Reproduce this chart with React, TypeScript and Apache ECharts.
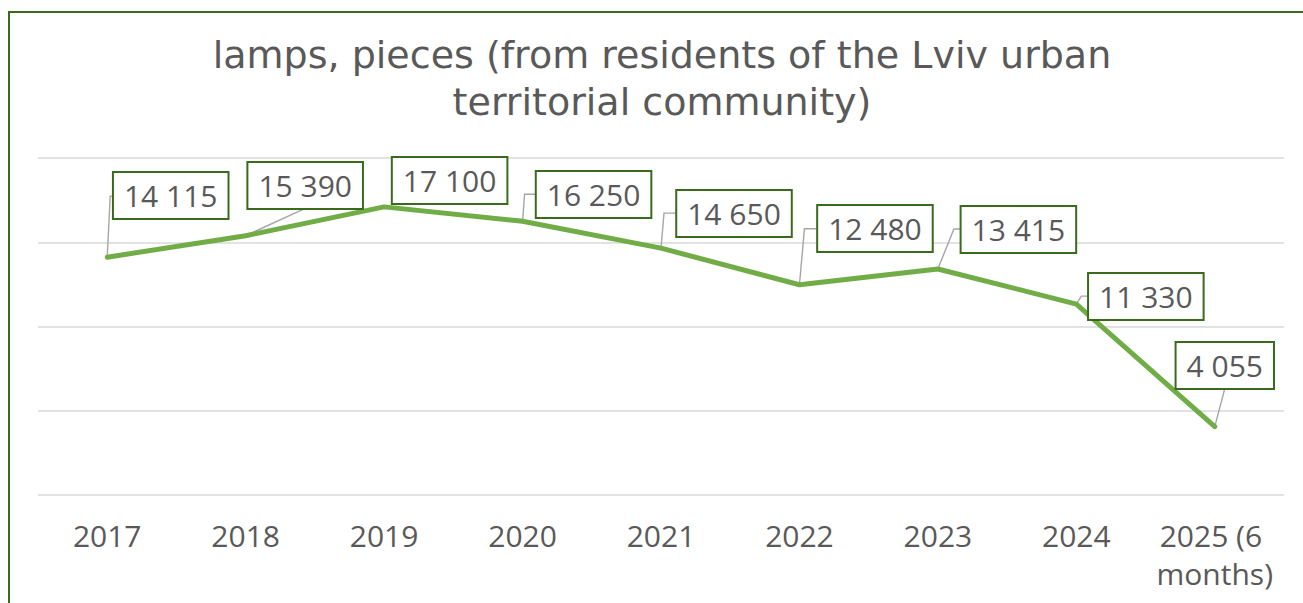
import React, { useEffect, useRef } from "react";
import * as echarts from "echarts";

const titleText = "lamps, pieces (from residents of the Lviv urban\nterritorial community)";
const categories = ["2017", "2018", "2019", "2020", "2021", "2022", "2023", "2024", "2025 (6 months)"];
const values = [14115, 15390, 17100, 16250, 14650, 12480, 13415, 11330, 4055];
const yTicks = { min: 0, max: 20000, interval: 5000 };

// label box centre relative to its point (px)
const labelOffsets: [number, number][] = [
  [63.5, -61.7],
  [59.5, -50.2],
  [65.5, -26.4],
  [71, -26.7],
  [73, -34.6],
  [75.5, -56.2],
  [80.5, -39.5],
  [69.5, -7.6],
  [10, -61.2],
];
// leader line bends relative to its point (px)
const leaderPaths: [number, number][][] = [
  [[3, -61], [15, -61]],
  [[59, -27]],
  [],
  [[2, -27], [14, -27]],
  [[3, -35], [15, -35]],
  [[5, -56], [17, -56]],
  [[16, -40], [28, -40]],
  [[5, -8], [17, -8]],
  [[10, -38]],
];

const FONT = "'Open Sans', sans-serif";
const TITLE_FONT = "'DejaVu Sans', sans-serif";
const fmt = (v: number) => String(v).replace(/\B(?=(\d{3})+(?!\d))/g, " ");

export default function App() {
  const ref = useRef<HTMLDivElement>(null);
  useEffect(() => {
    if (!ref.current) return;
    const chart = echarts.init(ref.current, undefined, { renderer: "svg" });
    chart.setOption({
      animation: false,
      backgroundColor: "#ffffff",
      title: {
        text: titleText,
        left: "center",
        top: 13,
        textStyle: {
          fontFamily: TITLE_FONT,
          fontSize: 38,
          fontWeight: "normal",
          color: "#595959",
          lineHeight: 47,
        },
      },
      grid: { left: 28, right: 30, top: 145, bottom: 118, containLabel: false },
      xAxis: {
        type: "category",
        data: categories,
        boundaryGap: true,
        axisLine: { show: false },
        axisTick: { show: false },
        axisLabel: {
          interval: 0,
          margin: 21,
          fontFamily: FONT,
          fontSize: 30,
          lineHeight: 38,
          color: "#595959",
          width: 136,
          overflow: "break",
        },
      },
      yAxis: {
        type: "value",
        min: yTicks.min,
        max: yTicks.max,
        interval: yTicks.interval,
        axisLabel: { show: false },
        axisLine: { show: false },
        axisTick: { show: false },
        splitLine: { lineStyle: { color: "#d9d9d9", width: 1.5 } },
      },
      series: [
        {
          type: "custom",
          silent: true,
          z: 1,
          data: values.map((v, i) => [i, v]),
          encode: { x: 0, y: 1 },
          renderItem: (params: any, api: any) => {
            const i = params.dataIndex;
            const p = api.coord([i, api.value(1)]);
            const rel = leaderPaths[i];
            if (!rel.length) return null;
            const points = [p, ...rel.map((r) => [p[0] + r[0], p[1] + r[1]])];
            return {
              type: "polyline",
              shape: { points },
              style: { stroke: "#a6a6a6", lineWidth: 1.4, fill: null },
            };
          },
        },
        {
          type: "line",
          z: 2,
          silent: true,
          data: values.map((v, i) => ({
            value: v,
            label: { offset: labelOffsets[i] },
          })),
          symbol: "circle",
          symbolSize: 4,
          showSymbol: true,
          itemStyle: { color: "#70ad47" },
          lineStyle: { color: "#70ad47", width: 5, cap: "round", join: "round" },
          label: {
            show: true,
            position: "inside",
            formatter: (p: any) => fmt(p.value),
            fontFamily: FONT,
            fontSize: 30,
            lineHeight: 33,
            color: "#595959",
            backgroundColor: "#ffffff",
            borderColor: "#3a6b1c",
            borderWidth: 2,
            padding: [6, 10, 6, 10],
          },
        },
      ],
    });
    return () => chart.dispose();
  }, []);
  return (
    <div
      style={{
        position: "absolute",
        left: 8,
        top: 11,
        border: "2px solid #3a6b1c",
        background: "#fff",
      }}
    >
      <div ref={ref} style={{ width: 1304, height: 600 }} />
    </div>
  );
}
